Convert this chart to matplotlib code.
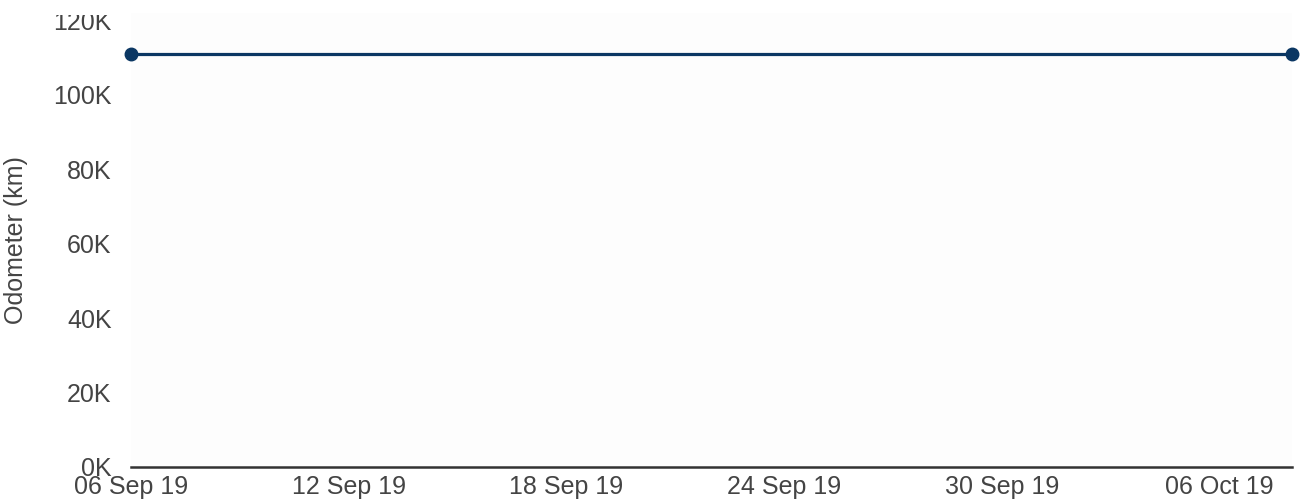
import matplotlib
matplotlib.use("Agg")
import matplotlib.pyplot as plt
import matplotlib.dates as mdates
from matplotlib.ticker import FuncFormatter
from matplotlib.transforms import Bbox, TransformedBbox
import pandas as pd

dates = pd.to_datetime(["2019-09-06", "2019-10-08"])
odometer = [111000, 111000]
tick_dates = pd.to_datetime(["2019-09-06", "2019-09-12", "2019-09-18",
                             "2019-09-24", "2019-09-30", "2019-10-06"])
y_ticks = [0, 20000, 40000, 60000, 80000, 100000, 120000]

plt.rcParams['font.family'] = ['Liberation Sans', 'DejaVu Sans']
txt = '#444444'
fs = 18

fig = plt.figure(figsize=(13, 5.04), dpi=100)
ax = fig.add_axes([131/1300, 37/504, 1161/1300, 454/504])
ax.set_facecolor('#fdfdfd')

ax.plot(dates, odometer, color='#0b3763', lw=2.3, marker='o', ms=9,
        clip_on=False, zorder=3)

ax.set_xlim(dates[0], dates[-1])
ax.set_ylim(0, 121900)
ax.set_xticks(tick_dates)
ax.xaxis.set_major_formatter(mdates.DateFormatter('%d %b %y'))
ax.set_yticks(y_ticks)
ax.yaxis.set_major_formatter(FuncFormatter(lambda v, p: f"{int(v/1000)}K"))

for s in ['top', 'right', 'left']:
    ax.spines[s].set_visible(False)
ax.spines['bottom'].set_color('#333333')
ax.spines['bottom'].set_linewidth(1.8)
ax.tick_params(axis='both', length=0, labelsize=fs, labelcolor=txt)
ax.tick_params(axis='x', pad=5.5)
ax.tick_params(axis='y', pad=14)

ax.set_ylabel('Odometer (km)', fontsize=fs, color=txt)
ax.yaxis.set_label_coords(-0.0887, 0.5)

# the top tick label is cut at the top of the plotting area
clip = TransformedBbox(Bbox([[0, 0], [1, (504 - 15) / 504]]), fig.transFigure)
for lab in ax.get_yticklabels():
    lab.set_clip_on(True)
    lab.set_clip_box(clip)

fig.savefig('out.png', dpi=100)
